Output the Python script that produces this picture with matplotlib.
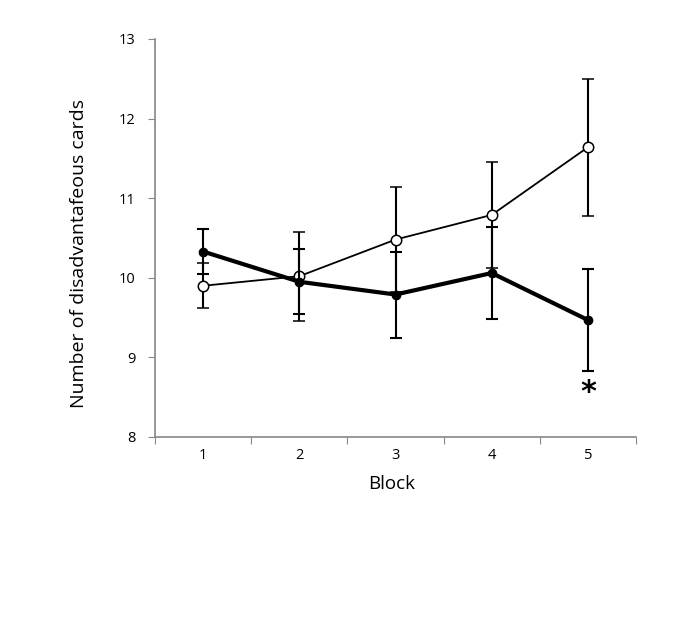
import matplotlib
matplotlib.use("Agg")
import matplotlib.pyplot as plt
import numpy as np

blocks = [1, 2, 3, 4, 5]
open_means = [9.90, 10.02, 10.48, 10.79, 11.64]
open_err = [0.28, 0.56, 0.66, 0.67, 0.86]
filled_means = [10.33, 9.95, 9.79, 10.06, 9.47]
filled_err = [0.28, 0.41, 0.54, 0.58, 0.64]
y_ticks = [8, 9, 10, 11, 12, 13]
x_label = "Block"
y_label = "Number of disadvantafeous cards"
star_pos = (5, 8.56)

plt.rcParams['font.family'] = ['Open Sans', 'DejaVu Sans']

fig = plt.figure(figsize=(6.85, 6.32), dpi=100)
ax = fig.add_axes([155/685, 1-437/632, (636-155)/685, (437-39)/632])

ax.errorbar(blocks, open_means, yerr=open_err, color='black', lw=1.3,
            marker='o', markersize=7.5, markerfacecolor='white',
            markeredgecolor='black', markeredgewidth=1.1,
            ecolor='black', elinewidth=1.5, capsize=4.5, capthick=1.5, zorder=3)
ax.errorbar(blocks, filled_means, yerr=filled_err, color='black', lw=3,
            marker='o', markersize=6, markerfacecolor='black',
            markeredgecolor='black',
            ecolor='black', elinewidth=1.5, capsize=4.5, capthick=1.5, zorder=4)

ax.text(star_pos[0], star_pos[1], "*", ha='center', va='center', fontsize=22,
        color='black', family='DejaVu Sans', fontweight='bold')

ax.set_xlim(0.5, 5.5)
ax.set_ylim(8, 13)
ax.set_yticks(y_ticks)
ax.set_yticklabels([str(t) for t in y_ticks], fontsize=10.5)
ax.set_xticks(np.arange(0.5, 6.0, 1.0))
ax.set_xticklabels([])
ax.set_xticks(blocks, minor=True)
ax.set_xticklabels([str(b) for b in blocks], minor=True, fontsize=10.5)
ax.tick_params(axis='x', which='major', length=5, color='#888888', direction='out')
ax.tick_params(axis='x', which='minor', length=0, pad=8)
ax.tick_params(axis='y', length=5, color='#888888', direction='out', pad=9)

for s in ['top', 'right']:
    ax.spines[s].set_visible(False)
for s in ['left', 'bottom']:
    ax.spines[s].set_color('#888888')
    ax.spines[s].set_linewidth(1.2)

ax.set_xlabel(x_label, fontsize=13.5)
ax.set_ylabel(y_label, fontsize=14)
ax.yaxis.set_label_coords(-0.14, 0.46)
ax.xaxis.set_label_coords(0.492, -0.095)

fig.savefig("out.png", dpi=100)
